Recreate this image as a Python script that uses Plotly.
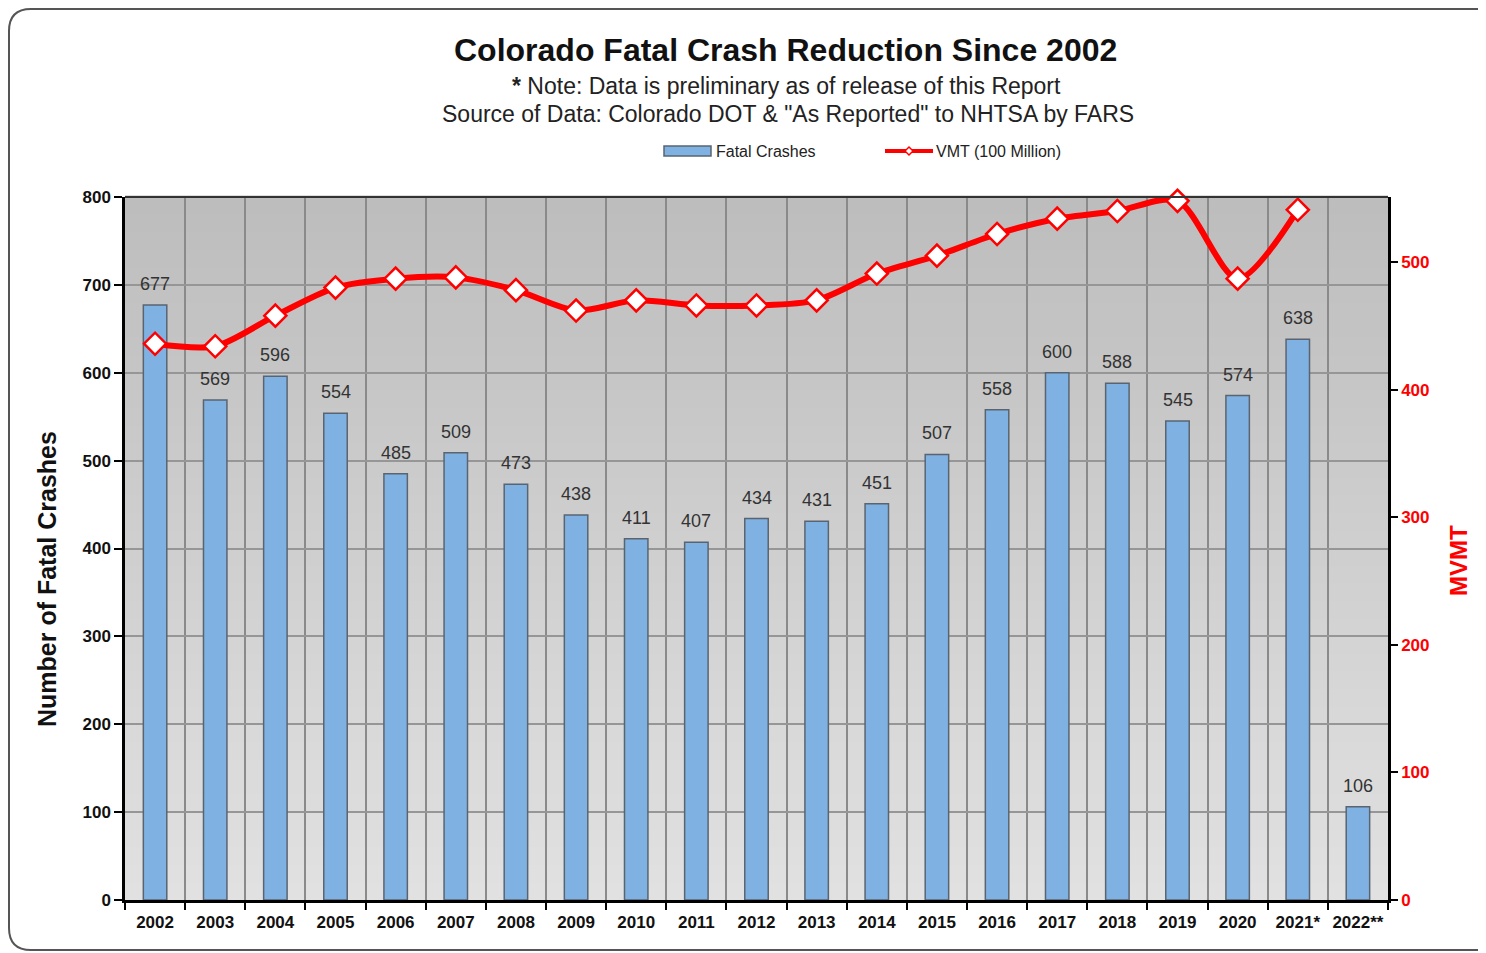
import plotly.graph_objects as go

years = ["2002", "2003", "2004", "2005", "2006", "2007", "2008", "2009", "2010", "2011",
         "2012", "2013", "2014", "2015", "2016", "2017", "2018", "2019", "2020", "2021*", "2022**"]
fatal_crashes = [677, 569, 596, 554, 485, 509, 473, 438, 411, 407,
                 434, 431, 451, 507, 558, 600, 588, 545, 574, 638, 106]
vmt = [436, 434, 458, 480, 487, 488, 478, 462, 470, 466,
       466, 470, 491, 505, 522, 534, 540, 548, 487, 541, None]

# figure is drawn inside the page's 8px body margin
W, H = 1478, 945
L, R, T, B = 117, 98, 189, 53
PW, PH = W - L - R, H - T - B

def px(xs):  # screen x -> paper
    return (xs - 8 - L) / PW

def py(ys):  # screen y -> paper
    return (H - B - (ys - 8)) / PH

FONT = "Arial, Liberation Sans, sans-serif"
BAR_COLOR = "#7fb2e3"
BAR_LINE = "#5a6470"
RED = "#ff0000"

fig = go.Figure()
fig.add_trace(go.Bar(
    x=years, y=fatal_crashes, name="Fatal Crashes",
    marker=dict(color=BAR_COLOR, line=dict(color=BAR_LINE, width=1.5)),
    width=0.39, showlegend=False,
))
fig.add_trace(go.Scatter(
    x=years, y=vmt, name="VMT (100 Million)", yaxis="y2",
    mode="lines+markers", showlegend=False,
    line=dict(color=RED, width=6, shape="spline", smoothing=0.8),
    marker=dict(symbol="diamond", size=17, color="white", line=dict(color=RED, width=2.5)),
    cliponaxis=False,
))

shapes = []
n = 40
for i in range(n):
    t = i / n
    c = int(0xbd + (0xe2 - 0xbd) * (1 - (i + 0.5) / n))
    col = f"rgb({c},{c},{c})"
    shapes.append(dict(type="rect", xref="x domain", yref="y domain",
                       x0=0, x1=1, y0=t, y1=t + 1 / n + 0.002,
                       fillcolor=col, line=dict(width=0), layer="below"))

# top border of plot area
shapes.append(dict(type="line", xref="x domain", yref="y domain", x0=0, x1=1, y0=1, y1=1,
                   line=dict(color="#333333", width=2)))

# outer rounded frame
x0, x1 = px(9), px(1500)
y0, y1 = py(950), py(9)
rx, ry = 22 / PW, 22 / PH
path = (f"M {x0+rx},{y1} L {x1-rx},{y1} Q {x1},{y1} {x1},{y1-ry} "
        f"L {x1},{y0+ry} Q {x1},{y0} {x1-rx},{y0} L {x0+rx},{y0} "
        f"Q {x0},{y0} {x0},{y0+ry} L {x0},{y1-ry} Q {x0},{y1} {x0+rx},{y1} Z")
shapes.append(dict(type="path", xref="paper", yref="paper", path=path,
                   line=dict(color="#555555", width=2), layer="below"))

# custom legend
shapes.append(dict(type="rect", xref="paper", yref="paper",
                   x0=px(664), x1=px(711), y0=py(156), y1=py(146),
                   fillcolor=BAR_COLOR, line=dict(color=BAR_LINE, width=1.5)))
shapes.append(dict(type="line", xref="paper", yref="paper",
                   x0=px(885), x1=px(933), y0=py(151), y1=py(151),
                   line=dict(color=RED, width=4)))
dx, dy = 4 / PW, 4 / PH
cx, cy = px(909), py(151)
shapes.append(dict(type="path", xref="paper", yref="paper",
                   path=f"M {cx-dx},{cy} L {cx},{cy+dy} L {cx+dx},{cy} L {cx},{cy-dy} Z",
                   fillcolor="white", line=dict(color=RED, width=1.5)))

def ann(text, x, y, size, color="#111111", angle=0, xanchor="center"):
    return dict(text=text, x=x, y=y, xref="paper", yref="paper", showarrow=False,
                xanchor=xanchor, yanchor="middle", textangle=angle,
                font=dict(size=size, color=color, family=FONT))

annotations = [
    ann("<b>Colorado Fatal Crash Reduction Since 2002</b>", px(785), py(50), 32),
    ann("<b>*</b> Note: Data is preliminary as of release of this Report", px(786), py(86), 23, "#222222"),
    ann("Source of Data: Colorado DOT &amp; \"As Reported\" to NHTSA by FARS", px(788), py(114), 23, "#222222"),
    ann("<b>Number of Fatal Crashes</b>", px(47), py(579), 25, angle=-90),
    ann("<b>MVMT</b>", px(1458), py(561), 24, RED, angle=-90),
    ann("Fatal Crashes", px(714), py(151), 16, "#222222", xanchor="left"),
    ann("VMT (100 Million)", px(934), py(151), 16, "#222222", xanchor="left"),
]

# value labels above bars (category index on the x axis, value on the y axis)
for i, v in enumerate(fatal_crashes):
    annotations.append(dict(x=i, y=v, xref="x", yref="y", text=str(v), showarrow=False,
                            yanchor="middle", yshift=21,
                            font=dict(size=18, color="#333333", family=FONT)))

fig.update_layout(
    width=W, height=H,
    margin=dict(l=L, r=R, t=T, b=B, autoexpand=False),
    paper_bgcolor="white", plot_bgcolor="#d0d0d0",
    font=dict(family=FONT),
    shapes=shapes, annotations=annotations,
    showlegend=False,
    xaxis=dict(type="category", range=[-0.5, 20.5], tickson="boundaries", tickangle=0,
               showgrid=True, gridcolor="#8a8a8a", gridwidth=1.5,
               ticks="outside", ticklen=7, tickwidth=2, tickcolor="black",
               ticklabelstandoff=5,
               showline=True, linecolor="black", linewidth=2.5,
               tickfont=dict(size=17, color="#111111", family=FONT, weight="bold")),
    yaxis=dict(range=[0, 800], dtick=100, showgrid=True, gridcolor="#969696", gridwidth=1.5,
               ticks="outside", ticklen=8, tickwidth=2, tickcolor="black",
               showline=True, linecolor="black", linewidth=2.5, zeroline=False,
               tickfont=dict(size=17, color="#111111", family=FONT, weight="bold")),
    yaxis2=dict(range=[0, 551], tickvals=[0, 100, 200, 300, 400, 500], overlaying="y", side="right",
                showgrid=False, zeroline=False, ticks="outside", ticklen=7, tickwidth=2, tickcolor="black",
                showline=True, linecolor="black", linewidth=2.5,
                tickfont=dict(size=17, color=RED, family=FONT, weight="bold")),
)

fig.write_html("out.html")
